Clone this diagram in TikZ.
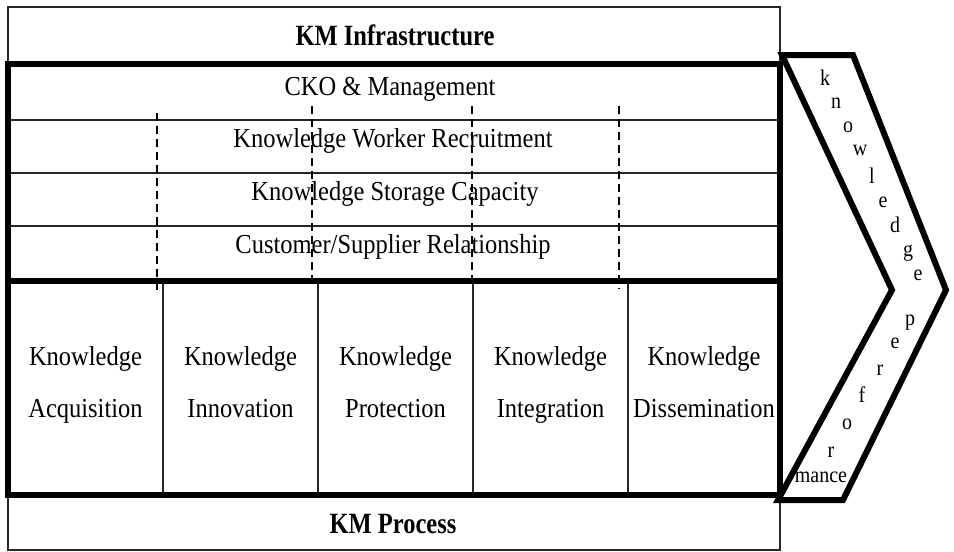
\documentclass[tikz,border=0pt]{standalone}
\usepackage{fontspec}
\usepackage{graphicx}
\setmainfont{Liberation Serif}
% slightly tall lettering
\newcommand{\tallbox}[1]{\scalebox{1}[1.12]{#1}}
\newcommand{\tallerbox}[1]{\scalebox{1}[1.2]{#1}}
\begin{document}
\begin{tikzpicture}[x=1pt,y=-1pt,
  txt/.style={inner sep=0pt, anchor=base, font=\fontsize{24.5}{28}\selectfont},
  head/.style={inner sep=0pt, anchor=base, font=\fontsize{24.5}{28}\selectfont\bfseries},
  letter/.style={inner sep=0pt, anchor=base, font=\fontsize{20}{22}\selectfont},
  hairline/.style={line width=1.3pt, draw=black!85},
  heavy/.style={line width=5.5pt},
  guide/.style={line width=1.3pt, dash pattern=on 8pt off 5pt},
  arrowline/.style={line width=6pt, line join=miter, miter limit=20},
]
\useasboundingbox (0,0) rectangle (954,552);

% outer frame
\draw[hairline] (8,7) rectangle (780,550);

% infrastructure rows
\foreach \yy in {120,173,226}
  \draw[hairline] (8,\yy) -- (780,\yy);

% dashed guides across the infrastructure rows
\draw[guide] (157,113) -- (157,290);
\draw[guide] (312,106) -- (312,287);
\draw[guide] (472,106) -- (472,287);
\draw[guide] (619,106) -- (619,289);

% process columns
\foreach \xx in {163,318,473,628}
  \draw[hairline] (\xx,281) -- (\xx,495);

% heavy inner frame
\draw[heavy] (8,64) rectangle (780,495);
\draw[heavy] (8,281) -- (780,281);

% chevron
\draw[arrowline] (782,55) -- (853,55) -- (946,290) -- (843,500) -- (778,500) -- (892,290) -- cycle;

% labels
\node[head] (infra) at (395,45) {\tallerbox{KM Infrastructure}};
\node[txt] (cko) at (390,95) {\tallbox{CKO \& Management}};
\node[txt] (kwr) at (393,147) {\tallbox{Knowledge Worker Recruitment}};
\node[txt] (ksc) at (395,200) {\tallbox{Knowledge Storage Capacity}};
\node[txt] (csr) at (393,253) {\tallbox{Customer/Supplier Relationship}};

\node[txt] (acqA) at (85.5,365) {\tallbox{Knowledge}};
\node[txt] (acqB) at (85.5,417) {\tallbox{Acquisition}};
\node[txt] (innA) at (240.5,365) {\tallbox{Knowledge}};
\node[txt] (innB) at (240.5,417) {\tallbox{Innovation}};
\node[txt] (proA) at (395.5,365) {\tallbox{Knowledge}};
\node[txt] (proB) at (395.5,417) {\tallbox{Protection}};
\node[txt] (intA) at (550.5,365) {\tallbox{Knowledge}};
\node[txt] (intB) at (550.5,417) {\tallbox{Integration}};
\node[txt] (disA) at (704,365) {\tallbox{Knowledge}};
\node[txt] (disB) at (704,417) {\tallbox{Dissemination}};

\node[head] (proc) at (393,533) {\tallerbox{KM Process}};

% lettering down the chevron
\foreach \lx/\ly/\ch [count=\i] in {825/85/k, 836/108/n, 848/132/o, 860/155/w,
    872/183/l, 883/207/e, 895/232/d, 908/256/g, 918/280/e,
    910/325/p, 895/348/e, 880/375/r, 862/402/f, 847/429/o, 831/457/r, 821/482/mance}
  \node[letter] (ch\i) at (\lx,\ly) {\tallbox{\ch}};
\end{tikzpicture}
\end{document}
